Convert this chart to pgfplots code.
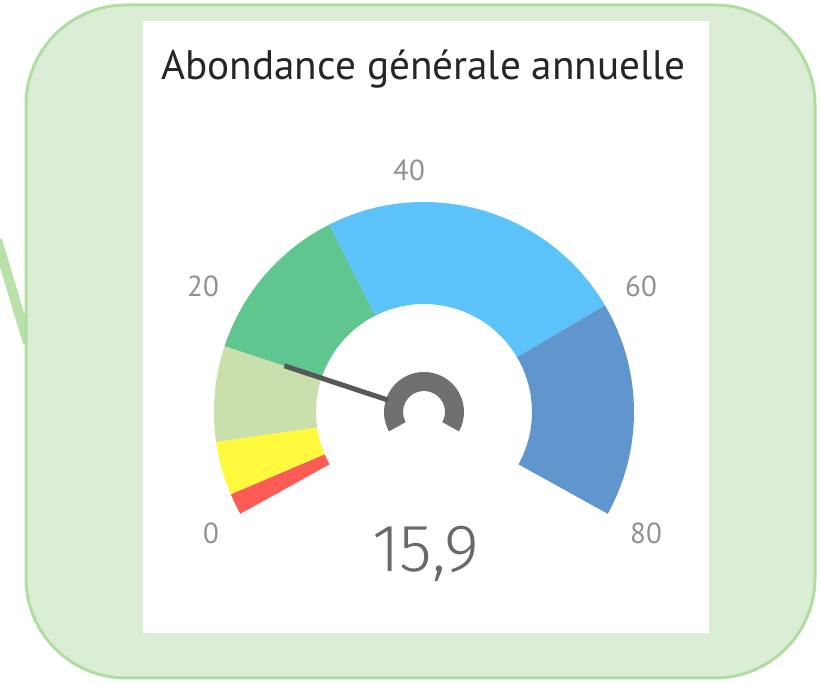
\documentclass[border=0pt]{standalone}
\usepackage{pgfplots}
\pgfplotsset{compat=1.18}
\usetikzlibrary{calc}
\usepackage{fontspec}
\setmainfont{PT Sans}
\newfontfamily\valuefont{Fira Sans Light}

\definecolor{frameFill}{RGB}{219,238,213}
\definecolor{frameLine}{RGB}{176,222,160}
\definecolor{slashCol}{RGB}{184,226,170}
\definecolor{titleCol}{RGB}{38,38,38}
\definecolor{tickCol}{RGB}{145,145,145}
\definecolor{valueCol}{RGB}{105,105,105}
\definecolor{bRed}{RGB}{253,92,86}
\definecolor{bYellow}{RGB}{255,250,62}
\definecolor{bPale}{RGB}{201,224,172}
\definecolor{bGreen}{RGB}{95,198,143}
\definecolor{bBlue}{RGB}{92,194,250}
\definecolor{bDark}{RGB}{96,150,205}
\definecolor{hubCol}{RGB}{112,112,112}
\definecolor{needleCol}{RGB}{88,88,88}

% gauge: 0 at 209 deg, 80 at -29 deg, centre in axis units (1 unit = 0.5pt)
\newcommand{\sector}[5]{%
  \fill[#1] ($(axis cs:424,272)+({209-2.975*(#2)}:#5)$)
    arc[start angle={209-2.975*(#2)}, end angle={209-2.975*(#3)}, radius=#5]
    -- ($(axis cs:424,272)+({209-2.975*(#3)}:#4)$)
    arc[start angle={209-2.975*(#3)}, end angle={209-2.975*(#2)}, radius=#4]
    -- cycle;}

\begin{document}
\begin{tikzpicture}
\begin{axis}[x=0.5pt, y=0.5pt, scale only axis, hide axis,
  xmin=0, xmax=820, ymin=0, ymax=684]
\fill[white] (axis cs:0,0) rectangle (axis cs:820,684);
\addplot[slashCol, line width=5pt, no marks] coordinates {(-3,444) (28,341)};
\draw[frameLine, line width=1.5pt, fill=frameFill, rounded corners=50pt]
  (axis cs:26,6) rectangle (axis cs:815,679);
\fill[white] (axis cs:143,51) rectangle (axis cs:709,663);

\node[anchor=base, text=titleCol, font=\fontsize{20.6}{24}\selectfont]
  at (axis cs:423.5,604) {Abondance générale annuelle};

% bands: lower value, upper value
\sector{bRed}{0}{2}{54pt}{105pt}
\sector{bYellow}{2}{7}{54pt}{105pt}
\sector{bPale}{7}{15.9}{54pt}{105pt}
\sector{bGreen}{15.9}{31}{54pt}{105pt}
\sector{bBlue}{31}{60}{54pt}{105pt}
\sector{bDark}{60}{80}{54pt}{105pt}

% hub and needle at 15.9
\sector{hubCol}{0}{80}{10.5pt}{20pt}
\draw[needleCol, line width=2.5pt]
  ($(axis cs:424,272)+({209-2.975*15.9}:19pt)$) -- ($(axis cs:424,272)+({209-2.975*15.9}:73.5pt)$);

\node[text=tickCol, font=\fontsize{14.5}{18}\selectfont] at (axis cs:211,151) {0};
\node[text=tickCol, font=\fontsize{14.5}{18}\selectfont] at (axis cs:203,398) {20};
\node[text=tickCol, font=\fontsize{14.5}{18}\selectfont] at (axis cs:409,514) {40};
\node[text=tickCol, font=\fontsize{14.5}{18}\selectfont] at (axis cs:641,398) {60};
\node[text=tickCol, font=\fontsize{14.5}{18}\selectfont] at (axis cs:646,151) {80};

\node[anchor=base, text=valueCol, font=\valuefont\fontsize{33.5}{38}\selectfont]
  at (axis cs:425.5,112) {15,9};
\end{axis}
\end{tikzpicture}
\end{document}
